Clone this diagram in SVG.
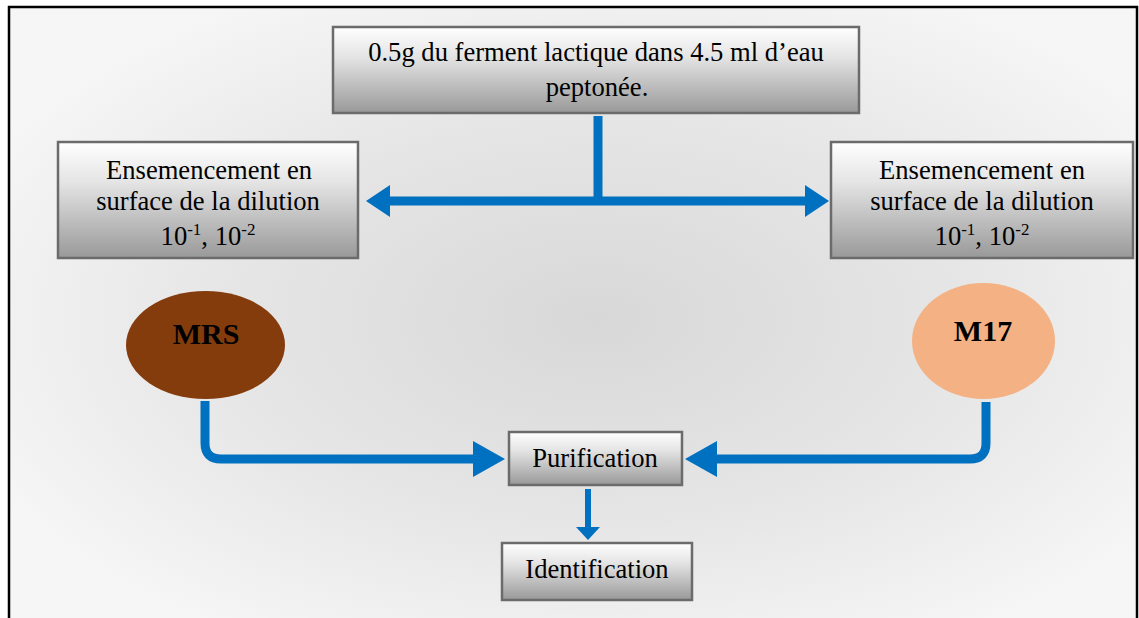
<svg xmlns="http://www.w3.org/2000/svg" width="1139" height="618" viewBox="0 0 1139 618">
  <defs>
    <radialGradient id="bg" cx="0.52" cy="0.5" r="0.6">
      <stop offset="0" stop-color="#d8d8d8"/>
      <stop offset="0.55" stop-color="#e6e6e6"/>
      <stop offset="1" stop-color="#f6f6f6"/>
    </radialGradient>
    <linearGradient id="boxfill" x1="0" y1="0" x2="0" y2="1">
      <stop offset="0" stop-color="#ffffff"/>
      <stop offset="0.35" stop-color="#e4e4e4"/>
      <stop offset="1" stop-color="#999999"/>
    </linearGradient>
    <marker id="arrowA" markerUnits="userSpaceOnUse" markerWidth="24" markerHeight="32" viewBox="0 0 24 32" refX="0" refY="16" orient="auto-start-reverse">
      <path d="M0,0 L24,16 L0,32 Z" fill="#0070C0"/>
    </marker>
    <marker id="arrowB" markerUnits="userSpaceOnUse" markerWidth="32" markerHeight="36" viewBox="0 0 32 36" refX="0" refY="18" orient="auto">
      <path d="M0,0 L32,18 L0,36 Z" fill="#0070C0"/>
    </marker>
    <marker id="arrowC" markerUnits="userSpaceOnUse" markerWidth="13" markerHeight="24" viewBox="0 0 13 24" refX="0" refY="12" orient="auto">
      <path d="M0,0 L13,12 L0,24 Z" fill="#0070C0"/>
    </marker>
  </defs>
  <style>
    .box { fill: url(#boxfill); stroke: #6b6b6b; stroke-width: 2.5; }
    .t { font-family: "Liberation Serif", "Times New Roman", serif; font-size: 26.6px; fill: #000; text-anchor: middle; }
    .tb { font-family: "Liberation Serif", "Times New Roman", serif; font-size: 30px; font-weight: bold; fill: #000; text-anchor: middle; }
    .sup { font-size: 17px; }
    .conn { fill: none; stroke: #0070C0; stroke-width: 9; }
    .conn2 { fill: none; stroke: #0070C0; stroke-width: 6; }
  </style>

  <rect x="9" y="7" width="1128" height="625" fill="url(#bg)" stroke="#000" stroke-width="2.5"/>

  <g id="connectors">
    <path class="conn" d="M598,116 V201"/>
    <path class="conn" d="M390,201 H805" marker-start="url(#arrowA)" marker-end="url(#arrowA)"/>
    <path class="conn" d="M205,401 V443 Q205,459 221,459 H473" marker-end="url(#arrowB)"/>
    <path class="conn" d="M986,402 V443 Q986,459 970,459 H717" marker-end="url(#arrowB)"/>
    <path class="conn2" d="M588,489 V527" marker-end="url(#arrowC)"/>
  </g>

  <g id="node-start">
    <rect class="box" x="333" y="27" width="526" height="86"/>
    <text class="t" x="596" y="61">0.5g du ferment lactique dans 4.5 ml d’eau</text>
    <text class="t" x="597" y="96">peptonée.</text>
  </g>

  <g id="node-ens-left">
    <rect class="box" x="58" y="142" width="300" height="116"/>
    <text class="t" x="209" y="179">Ensemencement en</text>
    <text class="t" x="208" y="210">surface de la dilution</text>
    <text class="t" x="208" y="245">10<tspan class="sup" dy="-10">-1</tspan><tspan dy="10">, 10</tspan><tspan class="sup" dy="-10">-2</tspan></text>
  </g>

  <g id="node-ens-right">
    <rect class="box" x="831" y="142" width="302" height="116"/>
    <text class="t" x="982" y="179">Ensemencement en</text>
    <text class="t" x="982" y="210">surface de la dilution</text>
    <text class="t" x="982" y="245">10<tspan class="sup" dy="-10">-1</tspan><tspan dy="10">, 10</tspan><tspan class="sup" dy="-10">-2</tspan></text>
  </g>

  <g id="node-mrs">
    <ellipse cx="205.5" cy="345" rx="79.5" ry="54" fill="#843C0C"/>
    <text class="tb" x="206" y="344">MRS</text>
  </g>

  <g id="node-m17">
    <ellipse cx="983.5" cy="341" rx="71.5" ry="58" fill="#F4B183"/>
    <text class="tb" x="983" y="341">M17</text>
  </g>

  <g id="node-purification">
    <rect class="box" x="509" y="432" width="173" height="53"/>
    <text class="t" x="595" y="467">Purification</text>
  </g>

  <g id="node-identification">
    <rect class="box" x="502" y="543" width="190" height="57"/>
    <text class="t" x="597" y="578">Identification</text>
  </g>
</svg>
